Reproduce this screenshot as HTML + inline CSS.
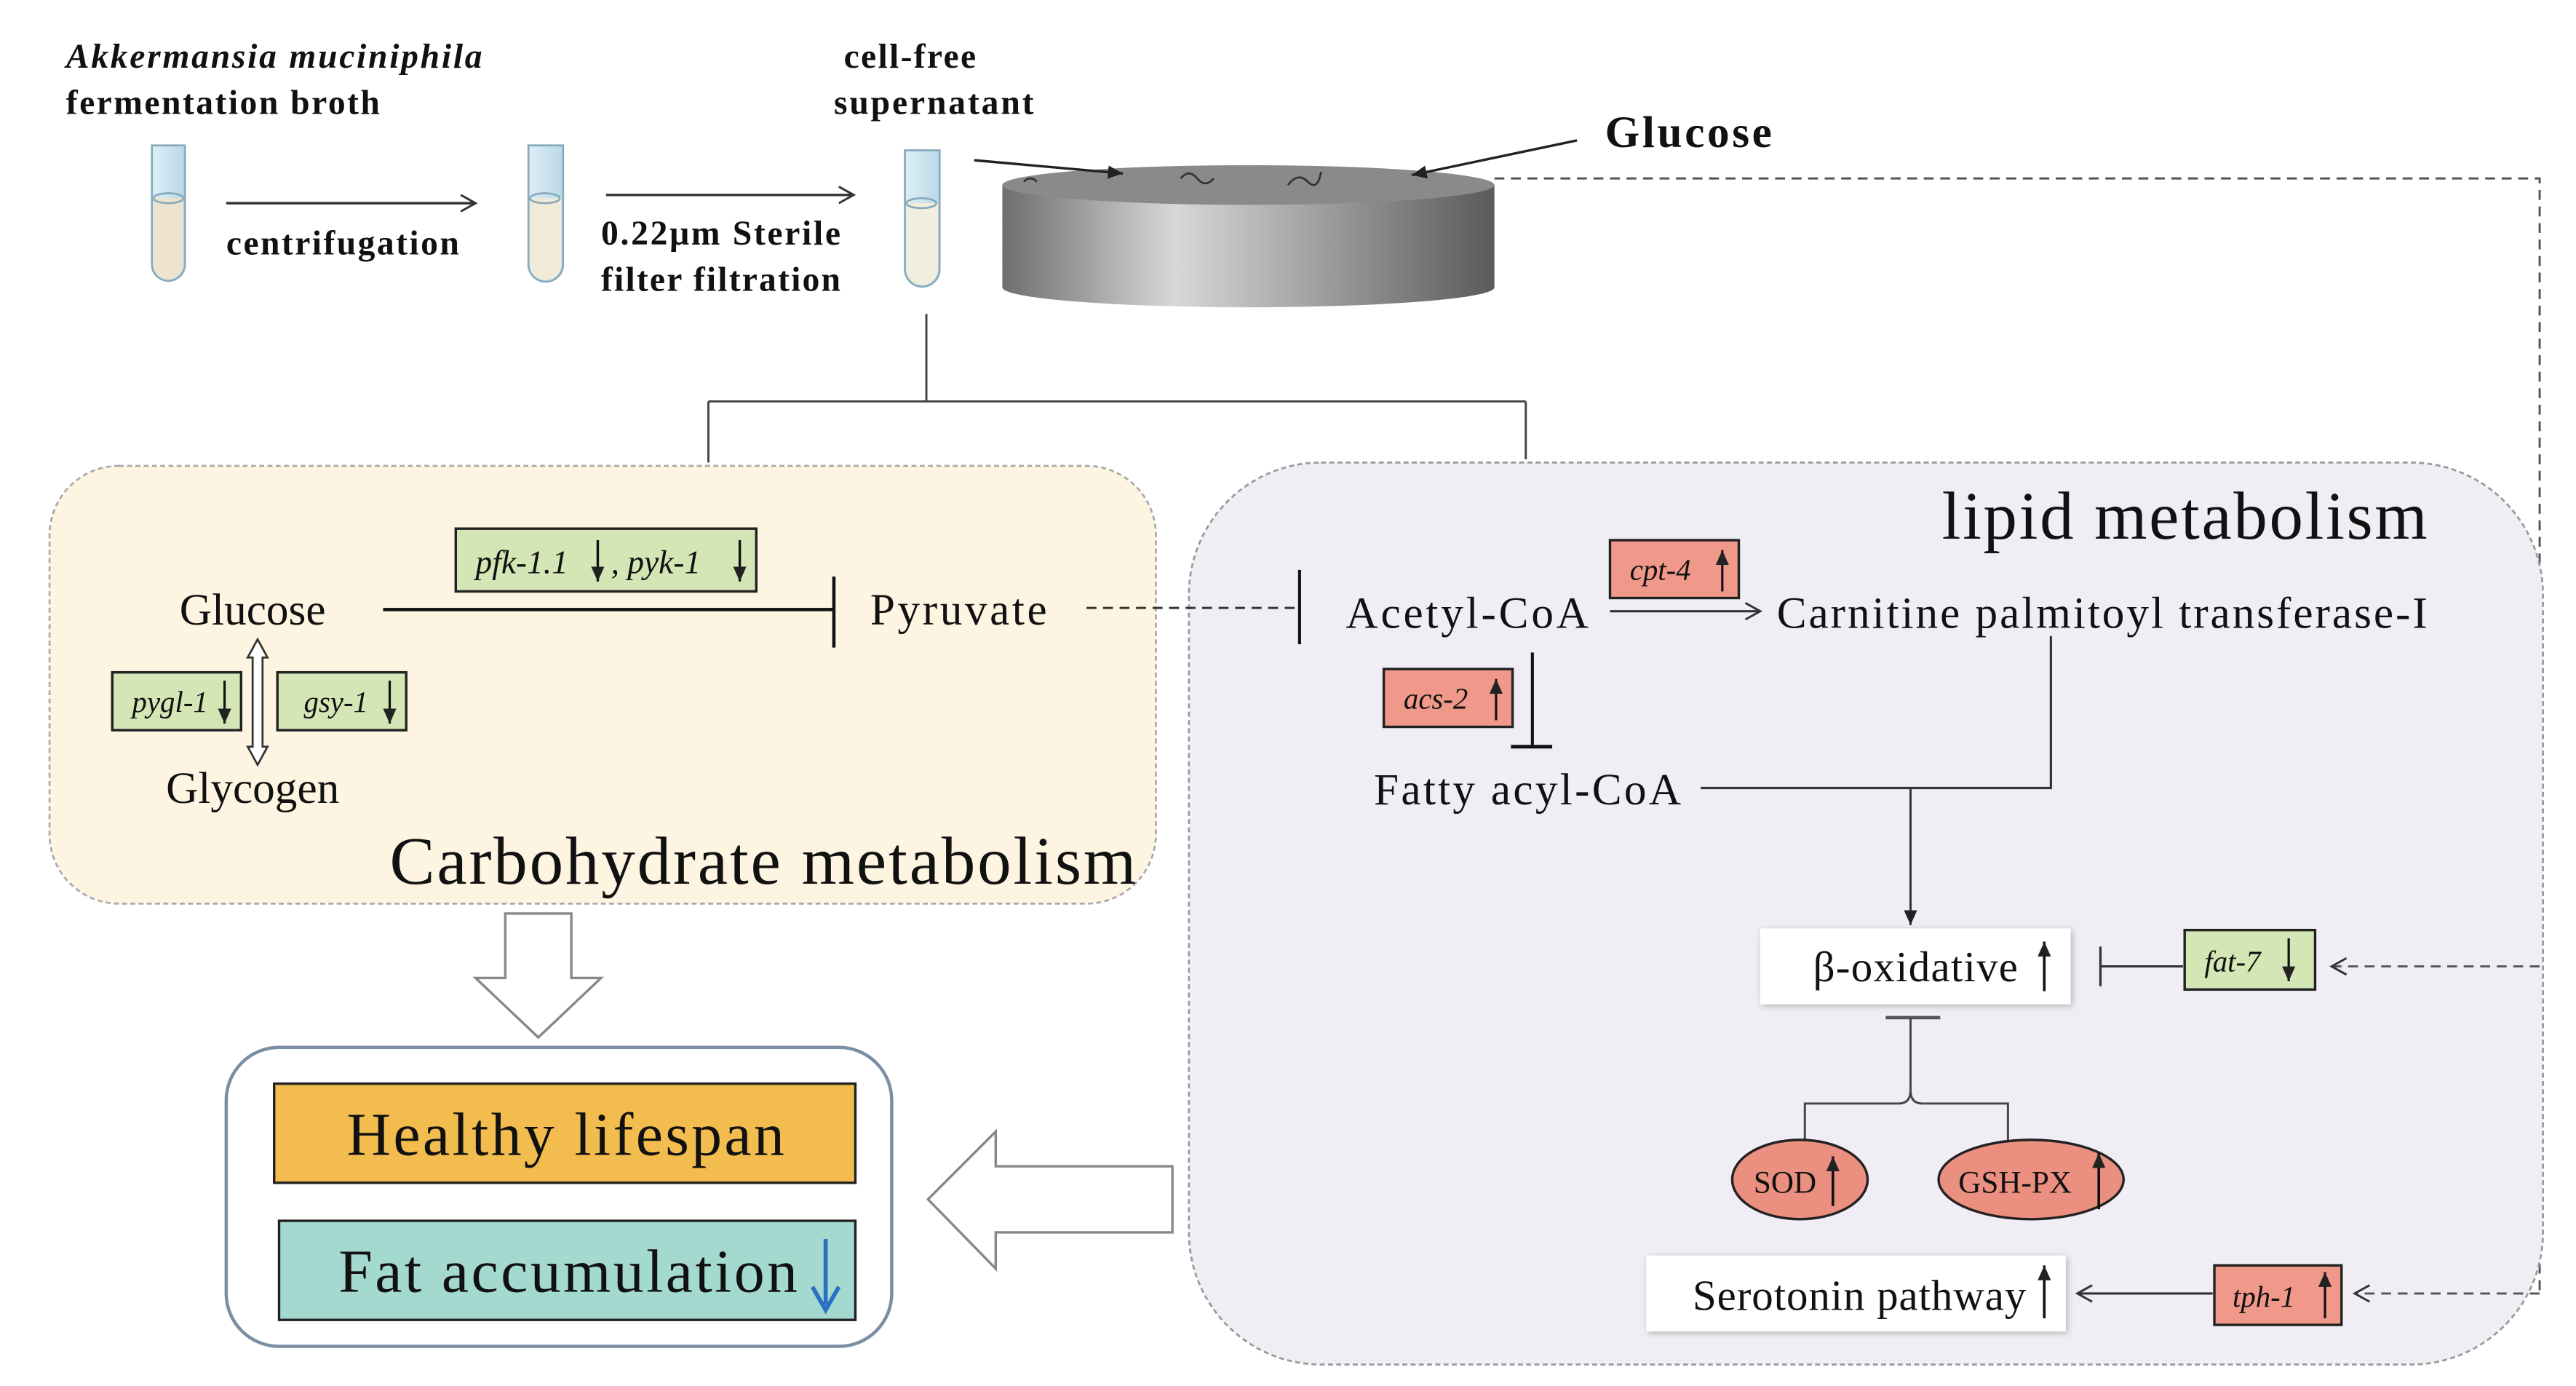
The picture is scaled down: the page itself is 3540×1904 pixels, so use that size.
<!DOCTYPE html>
<html><head><meta charset="utf-8"><style>
html,body{margin:0;padding:0;background:#fff;}
svg{display:block;}
text{font-family:"Liberation Serif",serif;fill:#111;}
</style></head><body>
<svg width="3540" height="1904" viewBox="0 0 1560 839" preserveAspectRatio="none" xmlns="http://www.w3.org/2000/svg">
<defs>
<marker id="oa" markerWidth="12" markerHeight="12" refX="10" refY="6" orient="auto" markerUnits="userSpaceOnUse"><path d="M1,1 L10,6 L1,11" fill="none" stroke="#333" stroke-width="1.3"/></marker>
<marker id="fa" markerWidth="10" markerHeight="10" refX="9" refY="5" orient="auto" markerUnits="userSpaceOnUse"><path d="M0,1 L9,5 L0,9 Z" fill="#222"/></marker>
<linearGradient id="cyl" x1="0" x2="1" y1="0" y2="0"><stop offset="0" stop-color="#6d6d6d"/><stop offset="0.35" stop-color="#d8d8d8"/><stop offset="0.6" stop-color="#a8a8a8"/><stop offset="1" stop-color="#5a5a5a"/></linearGradient>
<linearGradient id="tube" x1="0" x2="1"><stop offset="0" stop-color="#dfeef5"/><stop offset="1" stop-color="#b9d9e8"/></linearGradient>
<filter id="sh"><feDropShadow dx="1" dy="1" stdDeviation="2" flood-color="#888" flood-opacity="0.6"/></filter>
</defs>

<text x="40" y="41" font-size="21" font-weight="bold" font-style="italic" textLength="252">Akkermansia muciniphila</text>
<text x="40" y="69" font-size="21" font-weight="bold" textLength="190">fermentation broth</text>
<text x="511" y="41" font-size="21" font-weight="bold" textLength="80">cell-free</text>
<text x="505" y="69" font-size="21" font-weight="bold" textLength="121">supernatant</text>
<text x="137" y="154" font-size="21" font-weight="bold" textLength="141">centrifugation</text>
<text x="364" y="148" font-size="21" font-weight="bold" textLength="145">0.22μm Sterile</text>
<text x="364" y="176" font-size="21" font-weight="bold" textLength="145">filter filtration</text>
<text x="972" y="89" font-size="27" font-weight="bold" textLength="101">Glucose</text>

<g stroke="#8ab" stroke-width="1.2">
<path d="M92,88 h20 v72 a10,10 0 0 1 -20,0 Z" fill="url(#tube)"/>
<path d="M93,120 h18 v40 a9,9 0 0 1 -18,0 Z" fill="#ede3cf" stroke="none"/>
<ellipse cx="102" cy="120" rx="9" ry="3" fill="none"/>
<path d="M320,88 h21 v72 a10,10 0 0 1 -21,0 Z" fill="url(#tube)"/>
<path d="M321,120 h19 v40 a9,9 0 0 1 -19,0 Z" fill="#f0ead8" stroke="none"/>
<ellipse cx="330" cy="120" rx="9" ry="3" fill="none"/>
<path d="M548,91 h21 v72 a10,10 0 0 1 -21,0 Z" fill="url(#tube)"/>
<path d="M549,123 h19 v40 a9,9 0 0 1 -19,0 Z" fill="#f2eedd" stroke="none"/>
<ellipse cx="558" cy="123" rx="9" ry="3" fill="none"/>
</g>
<line x1="137" y1="123" x2="288" y2="123" stroke="#333" stroke-width="1.5" marker-end="url(#oa)"/>
<line x1="367" y1="118" x2="517" y2="118" stroke="#333" stroke-width="1.5" marker-end="url(#oa)"/>

<path d="M607,112 v62 a149,12 0 0 0 298,0 v-62 Z" fill="url(#cyl)"/>
<ellipse cx="756" cy="112" rx="149" ry="12" fill="#8a8a8a"/>
<path d="M715,108 q5,-6 10,0 t10,0 M780,112 q6,-8 12,-2 t8,-6 M620,110 q4,-4 8,0" stroke="#333" fill="none" stroke-width="1.2"/>
<line x1="590" y1="97" x2="680" y2="105" stroke="#222" stroke-width="1.5" marker-end="url(#fa)"/>
<line x1="955" y1="85" x2="855" y2="106" stroke="#222" stroke-width="1.5" marker-end="url(#fa)"/>

<path d="M905,108 H1538 V785" fill="none" stroke="#555" stroke-width="1.3" stroke-dasharray="6,4"/>

<path d="M561,190 V243 M429,243 H924 M429,243 V280 M924,243 V278" stroke="#444" stroke-width="1.3" fill="none"/>

<rect x="30" y="282" width="670" height="265" rx="42" fill="#fdf4e1" stroke="#aaa" stroke-width="1.2" stroke-dasharray="3,2"/>
<rect x="720" y="280" width="820" height="546" rx="80" fill="#f1edf4" stroke="#999" stroke-width="1.2" stroke-dasharray="3,2"/>

<text x="153" y="378" font-size="27" text-anchor="middle">Glucose</text>
<line x1="232" y1="369" x2="505" y2="369" stroke="#111" stroke-width="2"/>
<line x1="505" y1="349" x2="505" y2="392" stroke="#111" stroke-width="2"/>
<rect x="276" y="320" width="182" height="38" fill="#d4e6b5" stroke="#222" stroke-width="1.5"/>
<text x="288" y="347" font-size="20" font-style="italic">pfk-1.1</text>
<line x1="362" y1="327" x2="362" y2="352" stroke="#111" stroke-width="1.5" marker-end="url(#fa)"/>
<text x="370" y="347" font-size="20" font-style="italic">, pyk-1</text>
<line x1="448" y1="327" x2="448" y2="352" stroke="#111" stroke-width="1.5" marker-end="url(#fa)"/>
<text x="527" y="378" font-size="27" textLength="107">Pyruvate</text>
<path d="M150,398 L156,387 L162,398 H159 V452 H162 L156,463 L150,452 H153 V398 Z" fill="#fff" stroke="#333" stroke-width="1.2"/>
<rect x="68" y="407" width="78" height="35" fill="#d4e6b5" stroke="#222" stroke-width="1.5"/>
<text x="80" y="431" font-size="18" font-style="italic">pygl-1</text>
<line x1="136" y1="412" x2="136" y2="438" stroke="#111" stroke-width="1.4" marker-end="url(#fa)"/>
<rect x="168" y="407" width="78" height="35" fill="#d4e6b5" stroke="#222" stroke-width="1.5"/>
<text x="184" y="431" font-size="18" font-style="italic">gsy-1</text>
<line x1="236" y1="412" x2="236" y2="438" stroke="#111" stroke-width="1.4" marker-end="url(#fa)"/>
<text x="153" y="486" font-size="27" text-anchor="middle">Glycogen</text>
<text x="236" y="535" font-size="41" textLength="452">Carbohydrate metabolism</text>

<line x1="658" y1="368" x2="785" y2="368" stroke="#333" stroke-width="1.3" stroke-dasharray="6,4"/>
<line x1="787" y1="345" x2="787" y2="390" stroke="#111" stroke-width="1.8"/>

<path d="M306,553 H346 V592 H364 L326,628 L288,592 H306 Z" fill="#fff" stroke="#888" stroke-width="1.5"/>
<rect x="137" y="634" width="403" height="181" rx="32" fill="#fff" stroke="#7b8ea3" stroke-width="2"/>
<rect x="166" y="656" width="352" height="60" fill="#f2bd4e" stroke="#222" stroke-width="1.5"/>
<text x="210" y="699" font-size="37" textLength="265">Healthy lifespan</text>
<rect x="169" y="739" width="349" height="60" fill="#a4d9cf" stroke="#222" stroke-width="1.5"/>
<text x="205" y="782" font-size="37" textLength="278">Fat accumulation</text>
<line x1="500" y1="750" x2="500" y2="790" stroke="#2a70c0" stroke-width="2.5"/>
<path d="M492,779 L500,793 L508,779" fill="none" stroke="#2a70c0" stroke-width="2.5"/>
<path d="M710,706 V746 H603 V768 L562,726 L603,685 V706 Z" fill="#fff" stroke="#888" stroke-width="1.5"/>

<text x="1176" y="326" font-size="41" textLength="294">lipid metabolism</text>
<text x="815" y="380" font-size="27" textLength="147">Acetyl-CoA</text>
<rect x="975" y="327" width="78" height="35" fill="#f0998a" stroke="#222" stroke-width="1.5"/>
<text x="987" y="351" font-size="18" font-style="italic">cpt-4</text>
<line x1="1043" y1="358" x2="1043" y2="333" stroke="#111" stroke-width="1.4" marker-end="url(#fa)"/>
<line x1="975" y1="370" x2="1066" y2="370" stroke="#333" stroke-width="1.4" marker-end="url(#oa)"/>
<text x="1076" y="380" font-size="27" textLength="394">Carnitine palmitoyl transferase-I</text>
<rect x="838" y="405" width="78" height="35" fill="#f0998a" stroke="#222" stroke-width="1.5"/>
<text x="850" y="429" font-size="18" font-style="italic">acs-2</text>
<line x1="906" y1="436" x2="906" y2="411" stroke="#111" stroke-width="1.4" marker-end="url(#fa)"/>
<line x1="928" y1="395" x2="928" y2="452" stroke="#111" stroke-width="1.8"/>
<line x1="915" y1="452" x2="940" y2="452" stroke="#111" stroke-width="2.2"/>
<text x="832" y="487" font-size="27" textLength="186">Fatty acyl-CoA</text>
<path d="M1030,477 H1242 V385" stroke="#333" stroke-width="1.4" fill="none"/>
<line x1="1157" y1="477" x2="1157" y2="560" stroke="#333" stroke-width="1.3" marker-end="url(#fa)"/>

<rect x="1066" y="562" width="188" height="46" fill="#fff" filter="url(#sh)"/>
<text x="1098" y="594" font-size="26" textLength="124">β-oxidative</text>
<line x1="1238" y1="600" x2="1238" y2="570" stroke="#111" stroke-width="1.6" marker-end="url(#fa)"/>
<line x1="1272" y1="573" x2="1272" y2="597" stroke="#333" stroke-width="1.4"/>
<line x1="1272" y1="585" x2="1322" y2="585" stroke="#333" stroke-width="1.4"/>
<rect x="1323" y="563" width="79" height="36" fill="#d4e6b5" stroke="#222" stroke-width="1.5"/>
<text x="1335" y="588" font-size="18" font-style="italic">fat-7</text>
<line x1="1386" y1="568" x2="1386" y2="594" stroke="#111" stroke-width="1.4" marker-end="url(#fa)"/>
<line x1="1538" y1="585" x2="1412" y2="585" stroke="#555" stroke-width="1.3" stroke-dasharray="6,4" marker-end="url(#oa)"/>

<line x1="1142" y1="616" x2="1175" y2="616" stroke="#555" stroke-width="2"/>
<path d="M1157,616 V660 Q1157,668 1150,668 H1093 V690 M1157,660 Q1157,668 1164,668 H1216 V690" stroke="#444" stroke-width="1.3" fill="none"/>
<ellipse cx="1090" cy="714" rx="41" ry="24" fill="#eb8f80" stroke="#222" stroke-width="1.5"/>
<text x="1062" y="722" font-size="19">SOD</text>
<line x1="1110" y1="730" x2="1110" y2="700" stroke="#111" stroke-width="1.6" marker-end="url(#fa)"/>
<ellipse cx="1230" cy="714" rx="56" ry="24" fill="#eb8f80" stroke="#222" stroke-width="1.5"/>
<text x="1186" y="722" font-size="19">GSH-PX</text>
<line x1="1271" y1="732" x2="1271" y2="698" stroke="#111" stroke-width="1.6" marker-end="url(#fa)"/>

<rect x="997" y="760" width="254" height="46" fill="#fff" filter="url(#sh)"/>
<text x="1025" y="793" font-size="26" textLength="202">Serotonin pathway</text>
<line x1="1238" y1="798" x2="1238" y2="766" stroke="#111" stroke-width="1.6" marker-end="url(#fa)"/>
<line x1="1340" y1="783" x2="1258" y2="783" stroke="#333" stroke-width="1.4" marker-end="url(#oa)"/>
<rect x="1341" y="766" width="77" height="36" fill="#f0998a" stroke="#222" stroke-width="1.5"/>
<text x="1352" y="791" font-size="18" font-style="italic">tph-1</text>
<line x1="1408" y1="798" x2="1408" y2="770" stroke="#111" stroke-width="1.4" marker-end="url(#fa)"/>
<line x1="1538" y1="783" x2="1426" y2="783" stroke="#555" stroke-width="1.3" stroke-dasharray="6,4" marker-end="url(#oa)"/>
</svg>
</body></html>
